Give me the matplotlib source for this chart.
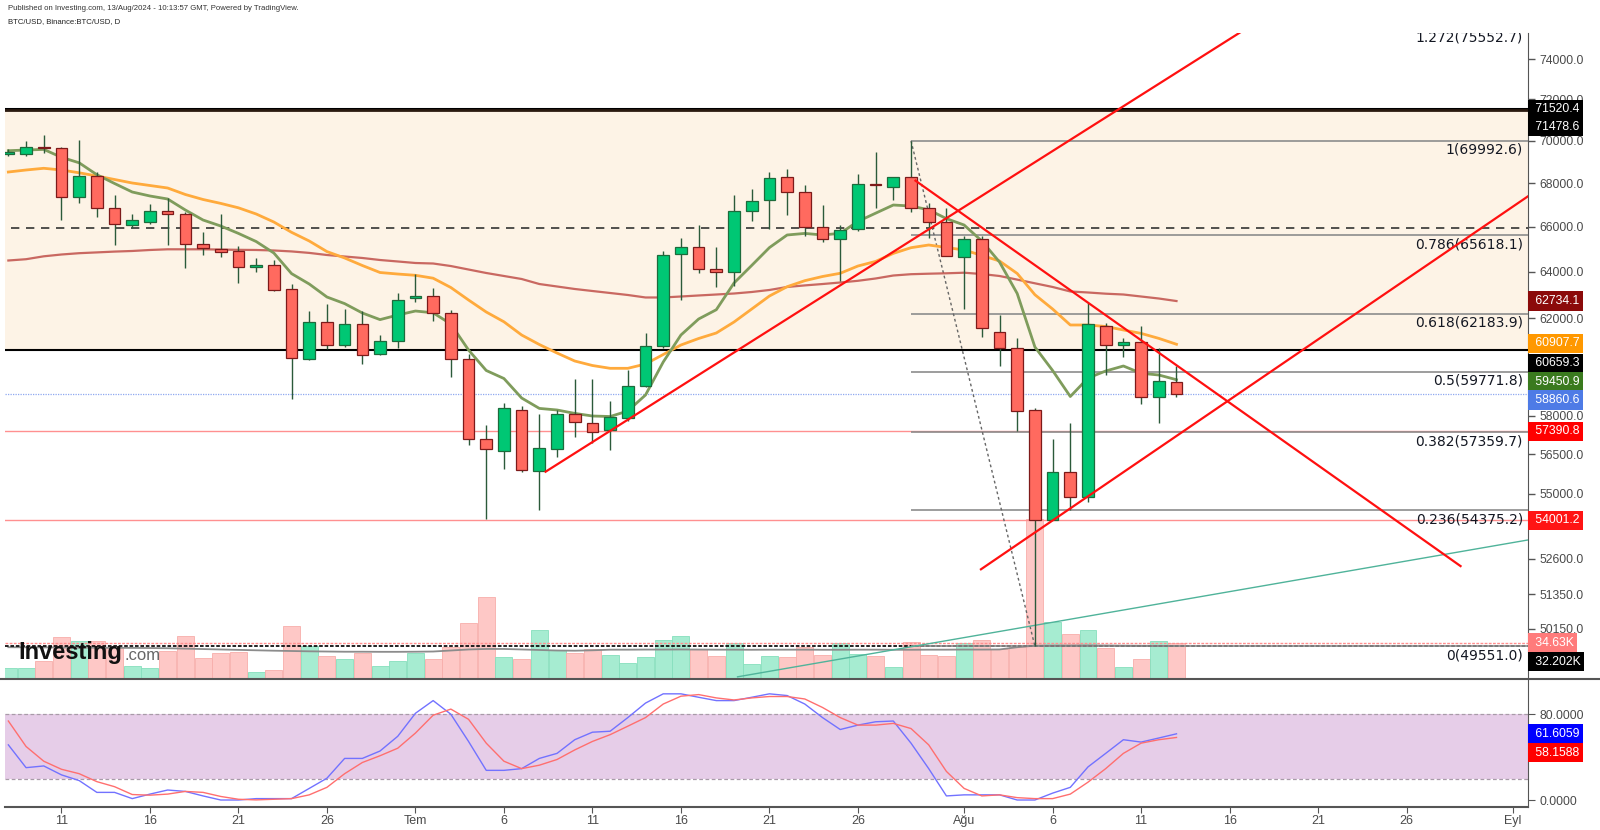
import numpy as np
import pandas as pd
import matplotlib
matplotlib.use('Agg')
from matplotlib import pyplot as plt
from matplotlib.lines import Line2D
from matplotlib.transforms import blended_transform_factory
from matplotlib.ticker import FixedLocator, FuncFormatter, NullLocator, NullFormatter

plt.rcParams['font.family'] = ['Liberation Sans', 'DejaVu Sans']

# ---- data (BTC/USD daily, 8 Jun - 13 Aug 2024) ----
start = pd.Timestamp('2024-06-08')
opens = [69380, 69350, 69700, 69640, 67372, 68329, 66838, 66093, 66230, 66729,
         66565, 65213, 65020, 64917, 64198, 64290, 63240, 60303, 61856, 60866,
         61758, 60500, 61045, 62870, 62966, 62211, 60291, 57082, 56607, 58244,
         55847, 56700, 58075, 57707, 57430, 57930, 59208, 60835, 64783, 65107,
         64126, 63980, 66729, 67222, 68268, 67572, 65975, 65437, 65900, 67970,
         67800, 68296, 66838, 66230, 64665, 65437, 61420, 60739, 58244, 54029,
         55807, 54870, 61690, 60878, 60985, 58765, 59343]
highs = [69620, 69960, 70270, 69700, 70030, 68520, 67461, 66595, 67056, 67297,
         66650, 65786, 66595, 65138, 64596, 64527, 63460, 62308, 62605, 62400,
         62300, 61295, 63080, 63903, 63300, 62350, 60500, 57650, 58500, 58400,
         58075, 58250, 59468, 59468, 58600, 59840, 61372, 64917, 65496, 66079,
         65100, 67461, 67724, 68520, 68650, 67900, 67000, 66100, 68420, 69473,
         68296, 69993, 67100, 66838, 65600, 65600, 62150, 61150, 58320, 57089,
         57707, 62664, 61790, 61150, 61692, 60739, 60011]
lows = [69250, 69250, 69400, 66304, 67068, 66455, 65183, 65930, 66132, 65183,
        64180, 64750, 64640, 63525, 63980, 63150, 58661, 60250, 60694, 60800,
        60085, 60450, 60750, 62700, 61877, 59549, 56872, 54056, 55950, 55800,
        54400, 56400, 57150, 56950, 56650, 57800, 59150, 60750, 62766, 63950,
        63324, 63400, 66250, 65920, 66550, 65600, 65330, 63618, 65800, 66838,
        67220, 66650, 65496, 64696, 62400, 61211, 60001, 57416, 49551, 54029,
        54390, 54700, 59643, 60400, 58470, 57733, 58760]
closes = [69450, 69712, 69640, 67372, 68329, 66838, 66111, 66305, 66729, 66565,
          65213, 65035, 64887, 64198, 64300, 63210, 60357, 61856, 60866, 61758,
          60458, 61028, 62779, 62960, 62211, 60291, 57082, 56693, 58301, 55903,
          56739, 58075, 57770, 57376, 57944, 59208, 60835, 64739, 65107, 64126,
          64000, 66729, 67185, 68222, 67572, 65975, 65437, 65854, 67957, 67930,
          68296, 66838, 66230, 64696, 65437, 61577, 60739, 58208, 54029, 55807,
          54889, 61758, 60878, 60985, 58765, 59411, 58861]
volumes_k = [10.7, 10.7, 17.9, 40.7, 37.4, 37.4, 30.2, 12.7, 10.7, 27.6,
             41.7, 20.2, 25.1, 26.0, 7.0, 8.5, 51.4, 31.9, 22.7, 19.5,
             25.4, 12.4, 17.9, 25.1, 19.5, 31.5, 54.6, 80.0, 21.5, 19.5,
             47.5, 28.0, 25.1, 29.3, 23.4, 15.6, 21.5, 38.3, 41.7, 29.3,
             22.1, 35.1, 14.3, 22.1, 21.7, 31.5, 23.4, 35.1, 24.4, 22.1,
             11.4, 36.4, 23.7, 22.4, 35.1, 38.3, 29.3, 31.5, 156.0, 55.9,
             43.9, 47.5, 30.2, 11.4, 19.5, 37.1, 34.63]
vol_ma_k = [31.0, 30.9, 30.8, 30.7, 30.6, 30.5, 30.4, 30.3, 30.2, 30.0,
            29.6, 29.2, 28.8, 28.4, 28.0, 27.6, 27.3, 27.0, 26.8, 26.6,
            26.6, 26.5, 26.5, 26.6, 26.8, 27.8, 28.8, 29.3, 29.3, 28.8,
            28.3, 27.8, 27.6, 28.0, 28.6, 28.6, 28.7, 28.7, 28.8, 28.7,
            28.6, 28.6, 28.5, 28.6, 28.6, 28.6, 28.5, 28.5, 28.6, 28.6,
            28.5, 28.5, 28.6, 28.6, 28.7, 28.7, 28.8, 31.0, 32.5, 32.6,
            32.7, 32.8, 32.7, 32.5, 32.4, 32.3, 32.2]
ma_fast = [69520, 69553, 69582, 69208, 68948, 68390, 67980, 67586, 67402, 67264,
           66760, 66305, 66034, 65701, 65338, 64827, 63921, 63468, 62907, 62624,
           62224, 61943, 62138, 62308, 62232, 61758, 60670, 59827, 59500, 58713,
           58297, 58234, 58099, 57995, 57975, 58194, 58834, 60175, 61295, 61969,
           62364, 63512, 64280, 65067, 65630, 65701, 65630, 65705, 66242, 66615,
           66988, 66942, 66769, 66368, 66079, 65361, 64430, 63058, 60795, 59827,
           58773, 59520, 59806, 60011, 59713, 59643, 59451]
ma_mid = [68516, 68610, 68690, 68610, 68479, 68329, 68166, 68003, 67887, 67771,
          67471, 67241, 67062, 66860, 66579, 66215, 65750, 65361, 64890, 64607,
          64276, 63969, 63903, 63847, 63721, 63317, 62779, 62266, 61851, 61295,
          60898, 60545, 60216, 60031, 59916, 59916, 60092, 60484, 60878, 61149,
          61380, 61842, 62393, 62950, 63352, 63613, 63795, 63935, 64253, 64456,
          64810, 65063, 65183, 65072, 64961, 64721, 64474, 63926, 63006, 62393,
          61716, 61716, 61653, 61506, 61362, 61154, 60908]
ma_slow = [64496, 64553, 64681, 64761, 64819, 64854, 64890, 64917, 64961, 64992,
           64992, 64992, 64980, 64968, 64961, 64939, 64897, 64832, 64739, 64672,
           64607, 64518, 64453, 64386, 64364, 64253, 64100, 63948, 63817, 63686,
           63468, 63361, 63253, 63166, 63080, 62994, 62887, 62887, 62929, 62973,
           63015, 63058, 63123, 63210, 63340, 63408, 63468, 63534, 63608, 63708,
           63838, 63895, 63917, 63935, 63960, 63903, 63817, 63660, 63499, 63340,
           63145, 63102, 63050, 63015, 62929, 62843, 62734]
stoch_k = [51.3, 30.1, 31.7, 23.4, 18.1, 7.1, 7.1, 1.3, 5.5, 9.3,
           8.0, 3.8, 0.0, 0.0, 1.3, 1.3, 1.3, 10.8, 20.3, 38.7,
           38.7, 45.6, 59.3, 80.7, 92.5, 79.8, 54.5, 27.6, 27.6, 29.2,
           38.7, 43.4, 56.1, 63.1, 64.0, 76.7, 90.2, 98.8, 98.8, 95.6,
           92.5, 92.5, 95.6, 98.8, 97.2, 89.3, 76.7, 65.6, 69.7, 72.8,
           73.5, 52.9, 29.2, 3.8, 4.8, 4.8, 4.8, 0.0, 0.0, 6.4,
           11.8, 30.8, 43.4, 56.1, 53.9, 57.7, 61.6]
stoch_d = [73.5, 49.8, 36.1, 28.6, 24.5, 17.1, 12.4, 5.1, 4.5, 5.5,
           8.0, 7.1, 3.3, 0.7, 0.1, 0.7, 1.3, 4.8, 11.8, 24.5,
           34.9, 41.2, 48.2, 62.3, 78.9, 84.6, 75.1, 52.9, 36.1, 29.2,
           32.4, 37.7, 46.6, 54.5, 60.8, 68.7, 76.7, 89.3, 96.6, 98.1,
           95.0, 93.1, 95.0, 96.3, 96.3, 94.0, 86.1, 76.7, 69.7, 69.7,
           71.3, 66.5, 51.3, 26.6, 10.8, 3.8, 4.8, 2.2, 1.3, 1.3,
           5.5, 16.6, 29.2, 43.4, 52.9, 56.1, 58.2]

# drawings on the chart
fib_ratios = ['1.272', '1', '0.786', '0.618', '0.5', '0.382', '0.236', '0']
fib_prices = [75552.7, 69992.6, 65618.1, 62183.9, 59771.8, 57359.7, 54375.2, 49551.0]
fib_start_day = 51
fib_swing = ([51, 58], [69992.6, 49551.0])
trend_up = ([30.3, 75.0], [55807, 78553])
trend_down = ([51.2, 82.1], [68142, 52320])
trend_low = ([54.9, 87.0], [52206, 68025])
trend_teal = ([41.2, 85.86], [48529, 53286])
zone_top, zone_bottom = 71520.4, 60659.3
resist_2 = 71478.6
dashed_level = 65950
price_now = 58860.6
red_levels = [57390.8, 54001.2]

# 60000 sits fully under the price tags in the original, so it is left out
price_ticks = [74000, 72000, 70000, 68000, 66000, 64000, 62000, 58000,
               56500, 55000, 53800, 52600, 51350, 50150]
tick_dates = ['2024-06-11', '2024-06-16', '2024-06-21', '2024-06-26', '2024-07-01',
              '2024-07-06', '2024-07-11', '2024-07-16', '2024-07-21', '2024-07-26',
              '2024-08-01', '2024-08-06', '2024-08-11', '2024-08-16', '2024-08-21',
              '2024-08-26', '2024-09-01']
tick_labels = ['11', '16', '21', '26', 'Tem', '6', '11', '16', '21', '26',
               'Ağu', '6', '11', '16', '21', '26', 'Eyl']
tick_pos = [(pd.Timestamp(d) - start).days for d in tick_dates]

opens, highs, lows, closes = map(np.array, (opens, highs, lows, closes))
x = np.arange(len(opens))
up = closes >= opens

# ---- figure layout (pixel frame) ----
W, H = 1600, 830
fig = plt.figure(figsize=(16, 8.3), dpi=100)
fig.patch.set_facecolor('white')


def frame(l, t, r, b):
    return [l / W, 1 - b / H, (r - l) / W, (b - t) / H]


ax = fig.add_axes(frame(5, 33, 1528, 679))
ax_rsi = fig.add_axes(frame(5, 679, 1528, 807), sharex=ax)
vol = ax.twinx()
vol.set_zorder(1)
ax.set_zorder(2)
ax.patch.set_visible(False)
vol.patch.set_visible(False)

XMIN, XMAX = -0.19, 85.86
ax.set_xlim(XMIN, XMAX)
ax.set_yscale('log')
ax.set_ylim(48457, 75342)

# zone and horizontal levels
ax.axhspan(zone_bottom, zone_top, color='#fdf3e6', zorder=0, lw=0)
ax.axhline(zone_top, color='black', lw=2.2, zorder=3)
ax.axhline(resist_2, color='#2a1a10', lw=2.0, zorder=3)
ax.axhline(zone_bottom, color='black', lw=1.5, zorder=3)
ax.axhline(dashed_level, xmin=0.004, color='#333333', lw=1.2, ls=(0, (5, 4)), zorder=3)
ax.axhline(price_now, color='#8fa8f0', lw=0.9, ls=(0, (1, 1)), zorder=3)
for lv in red_levels:
    ax.axhline(lv, color='#ff9090', lw=1.0, zorder=3)

# fib retracement
ax.hlines(fib_prices, fib_start_day, XMAX, color='#8c8c8c', lw=1.2, zorder=3)
ax.plot(fib_swing[0], fib_swing[1], color='#666666', lw=1, ls=(0, (2, 2)), zorder=3)
for r, p in zip(fib_ratios, fib_prices):
    t = ax.annotate(f'{r}({p:.1f})', xy=(0.9967, p), xycoords=('axes fraction', 'data'),
                    xytext=(0, -2), textcoords='offset pixels', ha='right', va='top',
                    fontsize=10, family='DejaVu Sans', color='#131722',
                    annotation_clip=False, zorder=7)
    t.set_clip_box(ax.bbox)

# moving averages
ax.plot(x, ma_slow, color='#c0504a', lw=1.6, alpha=0.85, zorder=4)
ax.plot(x, ma_mid, color='#ffaa3c', lw=2.0, zorder=4)
ax.plot(x, ma_fast, color='#7f9c5c', lw=2.0, zorder=4)

# candles
wick_color = '#2b5a3a'
ax.vlines(x, lows, highs, color=wick_color, lw=1.0, zorder=5)
body_bottom = np.minimum(opens, closes)
body_h = np.maximum(np.abs(closes - opens), 1)
ax.bar(x[up], body_h[up], bottom=body_bottom[up], width=0.66, color='#00c774',
       edgecolor='#1d6b3c', lw=0.9, zorder=6)
ax.bar(x[~up], body_h[~up], bottom=body_bottom[~up], width=0.66, color='#ff6a5f',
       edgecolor='#7d1a1a', lw=0.9, zorder=6)

# trend lines
for tl in (trend_up, trend_down, trend_low):
    ax.plot(tl[0], tl[1], color='#ff1010', lw=1.6, zorder=7, solid_capstyle='butt')
ax.plot(trend_teal[0], trend_teal[1], color='#4fb39a', lw=1.0, zorder=3)

# volume overlay
vol.set_ylim(0, 630)
vol_colors = np.where(up, '#a6ecd1', '#fec8c6')
vol_edges = np.where(up, '#86dfbd', '#f7aeab')
vol.bar(x, volumes_k, width=0.96, color=vol_colors, edgecolor=vol_edges, lw=0.6, zorder=1)
vol.plot(x, vol_ma_k, color='#8c8c8c', lw=1.3, zorder=2)
vol.axhline(volumes_k[-1], color='#ff8f8f', lw=1.0, ls=(0, (2, 1)), zorder=2)
vol.axhline(vol_ma_k[-1], color='#111111', lw=1.3, ls=(0, (2, 1)), zorder=2)
vol.set_yticks([])
vol.tick_params(right=False, labelright=False)
for s in vol.spines.values():
    s.set_visible(False)

# axes styling
for s in ('top', 'left', 'bottom'):
    ax.spines[s].set_visible(False)
ax.spines['right'].set_color('#555555')
ax.yaxis.tick_right()
ax.yaxis.set_major_locator(FixedLocator(price_ticks))
ax.yaxis.set_major_formatter(FuncFormatter(lambda v, p: f'{v:.1f}'))
ax.yaxis.set_minor_locator(NullLocator())
ax.yaxis.set_minor_formatter(NullFormatter())
ax.tick_params(axis='y', length=5, width=1, color='#555555', labelcolor='#4a4a4a',
               labelsize=8.8, pad=3)
ax.tick_params(axis='x', bottom=False, labelbottom=False)

# stochastic RSI pane
ax_rsi.set_ylim(-6.5, 112.6)
ax_rsi.axhspan(20, 80, color='#e6cde8', lw=0, zorder=0)
ax_rsi.axhline(80, color='#a89ba8', lw=0.9, ls=(0, (3, 2)), zorder=1)
ax_rsi.axhline(20, color='#a89ba8', lw=0.9, ls=(0, (3, 2)), zorder=1)
ax_rsi.plot(x, stoch_k, color='#7272ff', lw=1.0, zorder=3)
ax_rsi.plot(x, stoch_d, color='#ff6f6f', lw=1.0, zorder=3)
for s in ('top', 'left'):
    ax_rsi.spines[s].set_visible(False)
ax_rsi.spines['right'].set_color('#555555')
ax_rsi.spines['bottom'].set_color('#555555')
ax_rsi.spines['bottom'].set_linewidth(1.5)
ax_rsi.yaxis.tick_right()
ax_rsi.set_yticks([0, 80])
ax_rsi.set_yticklabels(['0.0000', '80.0000'])
ax_rsi.tick_params(axis='y', length=5, color='#555555', labelcolor='#4a4a4a',
                   labelsize=8.8, pad=3)
ax_rsi.set_xticks(tick_pos)
ax_rsi.set_xticklabels(tick_labels)
ax_rsi.tick_params(axis='x', length=4, color='#555555', labelcolor='#4a4a4a',
                   labelsize=9, pad=1.5)

# pane divider
fig.add_artist(Line2D([0, 1], [1 - 679 / H] * 2, color='#555555', lw=1.5,
                      transform=fig.transFigure))


# price tags on the right scale
def price_tag(axis, yref, value, text, color, dy=0):
    axis.annotate(' ' + text, xy=(1, value), xycoords=yref, xytext=(3.6, dy),
                  textcoords='offset pixels', ha='left', va='center', color='white',
                  fontsize=8.8, annotation_clip=False, zorder=20,
                  bbox=dict(boxstyle='square,pad=0.3', fc=color, ec='none'))


main_ref = ('axes fraction', 'data')
vol_ref = blended_transform_factory(ax.transAxes, vol.transData)
price_tag(ax, main_ref, zone_top, '71520.4', '#000000')
price_tag(ax, main_ref, resist_2, '71478.6', '#000000', dy=-16.6)
price_tag(ax, main_ref, ma_slow[-1], '62734.1', '#8b0a0a')
price_tag(ax, main_ref, ma_mid[-1], '60907.7', '#ff9800', dy=1)
price_tag(ax, main_ref, zone_bottom, '60659.3', '#000000', dy=-13)
price_tag(ax, main_ref, ma_fast[-1], '59450.9', '#3a7a1e', dy=-2)
price_tag(ax, main_ref, price_now, '58860.6', '#4e7be6', dy=-5.7)
price_tag(ax, main_ref, red_levels[0], '57390.8', '#ff0000')
price_tag(ax, main_ref, red_levels[1], '54001.2', '#ff1414')
price_tag(ax, vol_ref, volumes_k[-1], '34.63K', '#ff7b7b', dy=0.5)
price_tag(ax, vol_ref, vol_ma_k[-1], '32.202K', '#000000', dy=-15.7)
price_tag(ax_rsi, main_ref, stoch_k[-1], '61.6059', '#0000ff')
price_tag(ax_rsi, main_ref, stoch_d[-1], '58.1588', '#ff0000', dy=-15.2)

# header and logo
fig.text(8 / W, 1 - 9 / H, 'Published on Investing.com, 13/Aug/2024 - 10:13:57 GMT, Powered by TradingView.',
         fontsize=5.6, color='#333333', va='center', ha='left')
fig.text(8 / W, 1 - 22 / H, 'BTC/USD, Binance:BTC/USD, D',
         fontsize=5.6, color='#222222', va='center', ha='left')
fig.text(18 / W, 1 - 653 / H, 'Investing', fontsize=17, fontweight='bold',
         color='#111111', va='center', ha='left', zorder=30)
fig.text(124 / W, 1 - 655 / H, '.com', fontsize=12, color='#666666',
         va='center', ha='left', zorder=30)

fig.savefig('out.png', dpi=100, facecolor='white')
